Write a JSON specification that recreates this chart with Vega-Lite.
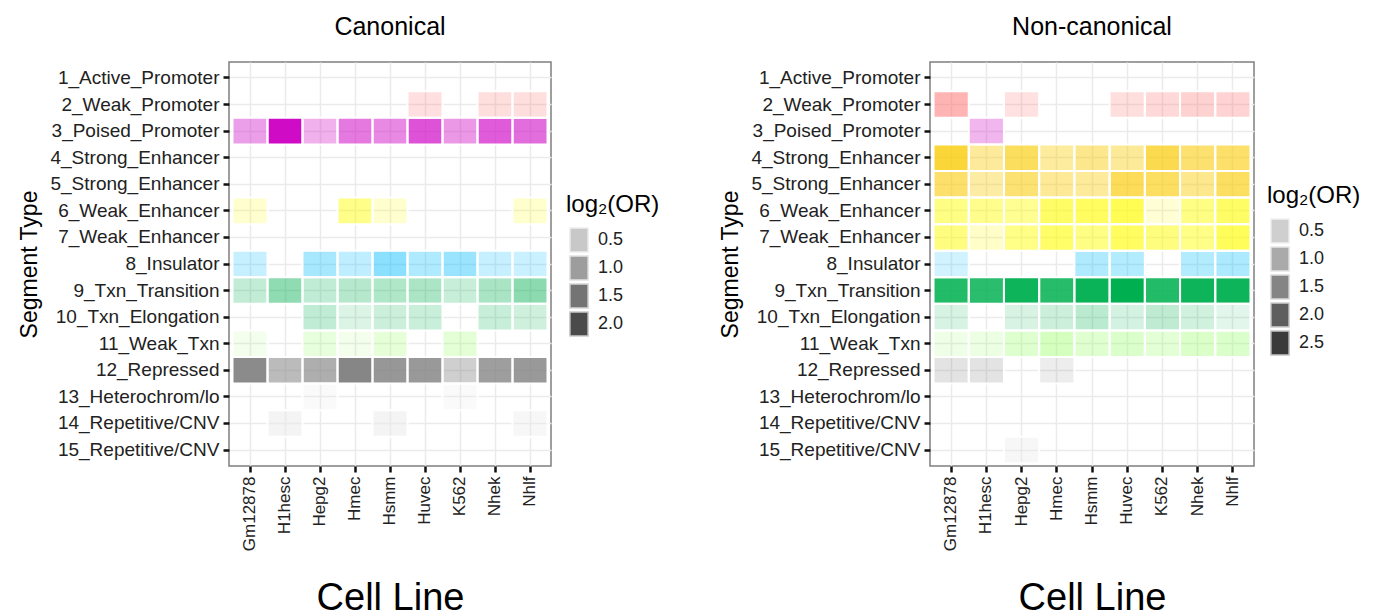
{
  "$schema": "https://vega.github.io/schema/vega-lite/v6.json",
  "padding": {"left": 18, "top": 14, "right": 5, "bottom": 2},
  "datasets": {
    "d": [
      {"p": "Canonical", "c": "Huvec", "s": "2_Weak_Promoter", "v": 0.36},
      {"p": "Canonical", "c": "Nhek", "s": "2_Weak_Promoter", "v": 0.38},
      {"p": "Canonical", "c": "Nhlf", "s": "2_Weak_Promoter", "v": 0.38},
      {"p": "Canonical", "c": "Gm12878", "s": "3_Poised_Promoter", "v": 0.80},
      {"p": "Canonical", "c": "H1hesc", "s": "3_Poised_Promoter", "v": 2.28},
      {"p": "Canonical", "c": "Hepg2", "s": "3_Poised_Promoter", "v": 0.63},
      {"p": "Canonical", "c": "Hmec", "s": "3_Poised_Promoter", "v": 1.18},
      {"p": "Canonical", "c": "Hsmm", "s": "3_Poised_Promoter", "v": 1.01},
      {"p": "Canonical", "c": "Huvec", "s": "3_Poised_Promoter", "v": 1.57},
      {"p": "Canonical", "c": "K562", "s": "3_Poised_Promoter", "v": 0.87},
      {"p": "Canonical", "c": "Nhek", "s": "3_Poised_Promoter", "v": 1.48},
      {"p": "Canonical", "c": "Nhlf", "s": "3_Poised_Promoter", "v": 1.31},
      {"p": "Canonical", "c": "Gm12878", "s": "6_Weak_Enhancer", "v": 0.31},
      {"p": "Canonical", "c": "Hmec", "s": "6_Weak_Enhancer", "v": 0.99},
      {"p": "Canonical", "c": "Hsmm", "s": "6_Weak_Enhancer", "v": 0.31},
      {"p": "Canonical", "c": "Nhlf", "s": "6_Weak_Enhancer", "v": 0.33},
      {"p": "Canonical", "c": "Gm12878", "s": "8_Insulator", "v": 0.41},
      {"p": "Canonical", "c": "Hepg2", "s": "8_Insulator", "v": 0.72},
      {"p": "Canonical", "c": "Hmec", "s": "8_Insulator", "v": 0.50},
      {"p": "Canonical", "c": "Hsmm", "s": "8_Insulator", "v": 0.99},
      {"p": "Canonical", "c": "Huvec", "s": "8_Insulator", "v": 0.63},
      {"p": "Canonical", "c": "K562", "s": "8_Insulator", "v": 0.85},
      {"p": "Canonical", "c": "Nhek", "s": "8_Insulator", "v": 0.41},
      {"p": "Canonical", "c": "Nhlf", "s": "8_Insulator", "v": 0.38},
      {"p": "Canonical", "c": "Gm12878", "s": "9_Txn_Transition", "v": 0.43},
      {"p": "Canonical", "c": "H1hesc", "s": "9_Txn_Transition", "v": 0.92},
      {"p": "Canonical", "c": "Hepg2", "s": "9_Txn_Transition", "v": 0.45},
      {"p": "Canonical", "c": "Hmec", "s": "9_Txn_Transition", "v": 0.55},
      {"p": "Canonical", "c": "Hsmm", "s": "9_Txn_Transition", "v": 0.60},
      {"p": "Canonical", "c": "Huvec", "s": "9_Txn_Transition", "v": 0.65},
      {"p": "Canonical", "c": "K562", "s": "9_Txn_Transition", "v": 0.38},
      {"p": "Canonical", "c": "Nhek", "s": "9_Txn_Transition", "v": 0.67},
      {"p": "Canonical", "c": "Nhlf", "s": "9_Txn_Transition", "v": 0.94},
      {"p": "Canonical", "c": "Hepg2", "s": "10_Txn_Elongation", "v": 0.45},
      {"p": "Canonical", "c": "Hmec", "s": "10_Txn_Elongation", "v": 0.19},
      {"p": "Canonical", "c": "Hsmm", "s": "10_Txn_Elongation", "v": 0.33},
      {"p": "Canonical", "c": "Huvec", "s": "10_Txn_Elongation", "v": 0.36},
      {"p": "Canonical", "c": "Nhek", "s": "10_Txn_Elongation", "v": 0.38},
      {"p": "Canonical", "c": "Nhlf", "s": "10_Txn_Elongation", "v": 0.31},
      {"p": "Canonical", "c": "Gm12878", "s": "11_Weak_Txn", "v": 0.14},
      {"p": "Canonical", "c": "Hepg2", "s": "11_Weak_Txn", "v": 0.41},
      {"p": "Canonical", "c": "Hmec", "s": "11_Weak_Txn", "v": 0.14},
      {"p": "Canonical", "c": "Hsmm", "s": "11_Weak_Txn", "v": 0.45},
      {"p": "Canonical", "c": "K562", "s": "11_Weak_Txn", "v": 0.50},
      {"p": "Canonical", "c": "Gm12878", "s": "12_Repressed", "v": 2.06},
      {"p": "Canonical", "c": "H1hesc", "s": "12_Repressed", "v": 1.14},
      {"p": "Canonical", "c": "Hepg2", "s": "12_Repressed", "v": 1.38},
      {"p": "Canonical", "c": "Hmec", "s": "12_Repressed", "v": 2.16},
      {"p": "Canonical", "c": "Hsmm", "s": "12_Repressed", "v": 1.82},
      {"p": "Canonical", "c": "Huvec", "s": "12_Repressed", "v": 1.79},
      {"p": "Canonical", "c": "K562", "s": "12_Repressed", "v": 0.75},
      {"p": "Canonical", "c": "Nhek", "s": "12_Repressed", "v": 1.70},
      {"p": "Canonical", "c": "Nhlf", "s": "12_Repressed", "v": 1.79},
      {"p": "Canonical", "c": "Hepg2", "s": "13_Heterochrom/lo", "v": 0.33},
      {"p": "Canonical", "c": "K562", "s": "13_Heterochrom/lo", "v": 0.33},
      {"p": "Canonical", "c": "H1hesc", "s": "14_Repetitive/CNV", "v": 1.06},
      {"p": "Canonical", "c": "Hsmm", "s": "14_Repetitive/CNV", "v": 1.06},
      {"p": "Canonical", "c": "Nhlf", "s": "14_Repetitive/CNV", "v": 0.70},

      {"p": "Non-canonical", "c": "Gm12878", "s": "2_Weak_Promoter", "v": 1.24},
      {"p": "Non-canonical", "c": "Hepg2", "s": "2_Weak_Promoter", "v": 0.42},
      {"p": "Non-canonical", "c": "Huvec", "s": "2_Weak_Promoter", "v": 0.48},
      {"p": "Non-canonical", "c": "K562", "s": "2_Weak_Promoter", "v": 0.56},
      {"p": "Non-canonical", "c": "Nhek", "s": "2_Weak_Promoter", "v": 0.69},
      {"p": "Non-canonical", "c": "Nhlf", "s": "2_Weak_Promoter", "v": 0.67},
      {"p": "Non-canonical", "c": "H1hesc", "s": "3_Poised_Promoter", "v": 0.69},
      {"p": "Non-canonical", "c": "Gm12878", "s": "4_Strong_Enhancer", "v": 2.00},
      {"p": "Non-canonical", "c": "H1hesc", "s": "4_Strong_Enhancer", "v": 0.94},
      {"p": "Non-canonical", "c": "Hepg2", "s": "4_Strong_Enhancer", "v": 1.59},
      {"p": "Non-canonical", "c": "Hmec", "s": "4_Strong_Enhancer", "v": 0.91},
      {"p": "Non-canonical", "c": "Hsmm", "s": "4_Strong_Enhancer", "v": 1.10},
      {"p": "Non-canonical", "c": "Huvec", "s": "4_Strong_Enhancer", "v": 0.97},
      {"p": "Non-canonical", "c": "K562", "s": "4_Strong_Enhancer", "v": 1.76},
      {"p": "Non-canonical", "c": "Nhek", "s": "4_Strong_Enhancer", "v": 1.40},
      {"p": "Non-canonical", "c": "Nhlf", "s": "4_Strong_Enhancer", "v": 1.48},
      {"p": "Non-canonical", "c": "Gm12878", "s": "5_Strong_Enhancer", "v": 1.46},
      {"p": "Non-canonical", "c": "H1hesc", "s": "5_Strong_Enhancer", "v": 0.86},
      {"p": "Non-canonical", "c": "Hepg2", "s": "5_Strong_Enhancer", "v": 1.37},
      {"p": "Non-canonical", "c": "Hmec", "s": "5_Strong_Enhancer", "v": 1.00},
      {"p": "Non-canonical", "c": "Hsmm", "s": "5_Strong_Enhancer", "v": 0.94},
      {"p": "Non-canonical", "c": "Huvec", "s": "5_Strong_Enhancer", "v": 1.65},
      {"p": "Non-canonical", "c": "K562", "s": "5_Strong_Enhancer", "v": 1.57},
      {"p": "Non-canonical", "c": "Nhek", "s": "5_Strong_Enhancer", "v": 1.08},
      {"p": "Non-canonical", "c": "Nhlf", "s": "5_Strong_Enhancer", "v": 1.57},
      {"p": "Non-canonical", "c": "Gm12878", "s": "6_Weak_Enhancer", "v": 1.21},
      {"p": "Non-canonical", "c": "H1hesc", "s": "6_Weak_Enhancer", "v": 1.13},
      {"p": "Non-canonical", "c": "Hepg2", "s": "6_Weak_Enhancer", "v": 1.05},
      {"p": "Non-canonical", "c": "Hmec", "s": "6_Weak_Enhancer", "v": 1.54},
      {"p": "Non-canonical", "c": "Hsmm", "s": "6_Weak_Enhancer", "v": 1.62},
      {"p": "Non-canonical", "c": "Huvec", "s": "6_Weak_Enhancer", "v": 1.73},
      {"p": "Non-canonical", "c": "K562", "s": "6_Weak_Enhancer", "v": 0.34},
      {"p": "Non-canonical", "c": "Nhek", "s": "6_Weak_Enhancer", "v": 1.21},
      {"p": "Non-canonical", "c": "Nhlf", "s": "6_Weak_Enhancer", "v": 1.54},
      {"p": "Non-canonical", "c": "Gm12878", "s": "7_Weak_Enhancer", "v": 1.27},
      {"p": "Non-canonical", "c": "H1hesc", "s": "7_Weak_Enhancer", "v": 0.48},
      {"p": "Non-canonical", "c": "Hepg2", "s": "7_Weak_Enhancer", "v": 1.18},
      {"p": "Non-canonical", "c": "Hmec", "s": "7_Weak_Enhancer", "v": 1.51},
      {"p": "Non-canonical", "c": "Hsmm", "s": "7_Weak_Enhancer", "v": 1.21},
      {"p": "Non-canonical", "c": "Huvec", "s": "7_Weak_Enhancer", "v": 1.62},
      {"p": "Non-canonical", "c": "K562", "s": "7_Weak_Enhancer", "v": 1.29},
      {"p": "Non-canonical", "c": "Nhek", "s": "7_Weak_Enhancer", "v": 1.18},
      {"p": "Non-canonical", "c": "Nhlf", "s": "7_Weak_Enhancer", "v": 1.67},
      {"p": "Non-canonical", "c": "Gm12878", "s": "8_Insulator", "v": 0.40},
      {"p": "Non-canonical", "c": "Hsmm", "s": "8_Insulator", "v": 0.75},
      {"p": "Non-canonical", "c": "Huvec", "s": "8_Insulator", "v": 0.72},
      {"p": "Non-canonical", "c": "Nhek", "s": "8_Insulator", "v": 0.72},
      {"p": "Non-canonical", "c": "Nhlf", "s": "8_Insulator", "v": 0.78},
      {"p": "Non-canonical", "c": "Gm12878", "s": "9_Txn_Transition", "v": 2.24},
      {"p": "Non-canonical", "c": "H1hesc", "s": "9_Txn_Transition", "v": 2.14},
      {"p": "Non-canonical", "c": "Hepg2", "s": "9_Txn_Transition", "v": 2.46},
      {"p": "Non-canonical", "c": "Hmec", "s": "9_Txn_Transition", "v": 2.19},
      {"p": "Non-canonical", "c": "Hsmm", "s": "9_Txn_Transition", "v": 2.49},
      {"p": "Non-canonical", "c": "Huvec", "s": "9_Txn_Transition", "v": 2.60},
      {"p": "Non-canonical", "c": "K562", "s": "9_Txn_Transition", "v": 2.24},
      {"p": "Non-canonical", "c": "Nhek", "s": "9_Txn_Transition", "v": 2.46},
      {"p": "Non-canonical", "c": "Nhlf", "s": "9_Txn_Transition", "v": 2.46},
      {"p": "Non-canonical", "c": "Gm12878", "s": "10_Txn_Elongation", "v": 0.31},
      {"p": "Non-canonical", "c": "Hepg2", "s": "10_Txn_Elongation", "v": 0.29},
      {"p": "Non-canonical", "c": "Hmec", "s": "10_Txn_Elongation", "v": 0.42},
      {"p": "Non-canonical", "c": "Hsmm", "s": "10_Txn_Elongation", "v": 0.61},
      {"p": "Non-canonical", "c": "Huvec", "s": "10_Txn_Elongation", "v": 0.34},
      {"p": "Non-canonical", "c": "K562", "s": "10_Txn_Elongation", "v": 0.56},
      {"p": "Non-canonical", "c": "Nhek", "s": "10_Txn_Elongation", "v": 0.37},
      {"p": "Non-canonical", "c": "Nhlf", "s": "10_Txn_Elongation", "v": 0.18},
      {"p": "Non-canonical", "c": "Gm12878", "s": "11_Weak_Txn", "v": 0.31},
      {"p": "Non-canonical", "c": "H1hesc", "s": "11_Weak_Txn", "v": 0.37},
      {"p": "Non-canonical", "c": "Hepg2", "s": "11_Weak_Txn", "v": 0.75},
      {"p": "Non-canonical", "c": "Hmec", "s": "11_Weak_Txn", "v": 1.02},
      {"p": "Non-canonical", "c": "Hsmm", "s": "11_Weak_Txn", "v": 0.72},
      {"p": "Non-canonical", "c": "Huvec", "s": "11_Weak_Txn", "v": 0.83},
      {"p": "Non-canonical", "c": "K562", "s": "11_Weak_Txn", "v": 0.61},
      {"p": "Non-canonical", "c": "Nhek", "s": "11_Weak_Txn", "v": 0.86},
      {"p": "Non-canonical", "c": "Nhlf", "s": "11_Weak_Txn", "v": 0.83},
      {"p": "Non-canonical", "c": "Gm12878", "s": "12_Repressed", "v": 0.48},
      {"p": "Non-canonical", "c": "H1hesc", "s": "12_Repressed", "v": 0.48},
      {"p": "Non-canonical", "c": "Hmec", "s": "12_Repressed", "v": 0.26},
      {"p": "Non-canonical", "c": "Hepg2", "s": "15_Repetitive/CNV", "v": 0.80}
    ]
  },
  "data": {"name": "d"},
  "spacing": 58,
  "hconcat": [
    {
      "title": "Canonical",
      "width": 322,
      "height": 404,
      "transform": [{"filter": "datum.p === 'Canonical'"}],
      "encoding": {
        "x": {"field": "c", "type": "nominal", "title": "Cell Line",
          "scale": {"domain": ["Gm12878", "H1hesc", "Hepg2", "Hmec", "Hsmm", "Huvec", "K562", "Nhek", "Nhlf"], "paddingInner": 0, "paddingOuter": 0.1},
          "axis": {"labelAngle": -90}},
        "y": {"field": "s", "type": "nominal", "title": "Segment Type",
          "scale": {"domain": ["1_Active_Promoter", "2_Weak_Promoter", "3_Poised_Promoter", "4_Strong_Enhancer", "5_Strong_Enhancer", "6_Weak_Enhancer", "7_Weak_Enhancer", "8_Insulator", "9_Txn_Transition", "10_Txn_Elongation", "11_Weak_Txn", "12_Repressed", "13_Heterochrom/lo", "14_Repetitive/CNV", "15_Repetitive/CNV"], "paddingInner": 0, "paddingOuter": 0.1}}
      },
      "layer": [
        {
          "mark": {"type": "rect"},
          "encoding": {
            "color": {"field": "s", "type": "nominal", "legend": null,
              "scale": {"domain": ["1_Active_Promoter", "2_Weak_Promoter", "3_Poised_Promoter", "4_Strong_Enhancer", "5_Strong_Enhancer", "6_Weak_Enhancer", "7_Weak_Enhancer", "8_Insulator", "9_Txn_Transition", "10_Txn_Elongation", "11_Weak_Txn", "12_Repressed", "13_Heterochrom/lo", "14_Repetitive/CNV", "15_Repetitive/CNV"],
                "range": ["#ff0000", "#ff6969", "#cf0bc6", "#faca00", "#faca00", "#fffc04", "#fffc04", "#0abefe", "#00b050", "#00b050", "#99ff66", "#7f7f7f", "#e8e8e8", "#e8e8e8", "#e8e8e8"]}},
            "opacity": {"field": "v", "type": "quantitative",
              "scale": {"domain": [0.09, 2.28], "range": [0.1, 1]},
              "legend": {"title": "log₂(OR)", "values": [0.5, 1.0, 1.5, 2.0], "format": ".1f", "orient": "none", "legendX": 337, "legendY": 131,
                "symbolSize": 576, "symbolFillColor": "#333333", "rowPadding": -3,
                "encode": {"symbols": {"update": {"shape": {"value": "M-0.76,-1H0.76V1H-0.76Z"}, "size": {"value": 576}, "stroke": {"value": "#c4c4c4"}, "strokeWidth": {"value": 1.5}, "fill": {"value": "#333333"}}}}}}
          }
        },
        {
          "mark": {"type": "rect", "filled": false, "stroke": "white", "strokeWidth": 2}
        }
      ]
    },
    {
      "title": "Non-canonical",
      "width": 324,
      "height": 404,
      "transform": [{"filter": "datum.p === 'Non-canonical'"}],
      "encoding": {
        "x": {"field": "c", "type": "nominal", "title": "Cell Line",
          "scale": {"domain": ["Gm12878", "H1hesc", "Hepg2", "Hmec", "Hsmm", "Huvec", "K562", "Nhek", "Nhlf"], "paddingInner": 0, "paddingOuter": 0.1},
          "axis": {"labelAngle": -90}},
        "y": {"field": "s", "type": "nominal", "title": "Segment Type",
          "scale": {"domain": ["1_Active_Promoter", "2_Weak_Promoter", "3_Poised_Promoter", "4_Strong_Enhancer", "5_Strong_Enhancer", "6_Weak_Enhancer", "7_Weak_Enhancer", "8_Insulator", "9_Txn_Transition", "10_Txn_Elongation", "11_Weak_Txn", "12_Repressed", "13_Heterochrom/lo", "14_Repetitive/CNV", "15_Repetitive/CNV"], "paddingInner": 0, "paddingOuter": 0.1}}
      },
      "layer": [
        {
          "mark": {"type": "rect"},
          "encoding": {
            "color": {"field": "s", "type": "nominal", "legend": null,
              "scale": {"domain": ["1_Active_Promoter", "2_Weak_Promoter", "3_Poised_Promoter", "4_Strong_Enhancer", "5_Strong_Enhancer", "6_Weak_Enhancer", "7_Weak_Enhancer", "8_Insulator", "9_Txn_Transition", "10_Txn_Elongation", "11_Weak_Txn", "12_Repressed", "13_Heterochrom/lo", "14_Repetitive/CNV", "15_Repetitive/CNV"],
                "range": ["#ff0000", "#ff6969", "#cf0bc6", "#faca00", "#faca00", "#fffc04", "#fffc04", "#0abefe", "#00b050", "#00b050", "#99ff66", "#7f7f7f", "#e8e8e8", "#e8e8e8", "#e8e8e8"]}},
            "opacity": {"field": "v", "type": "quantitative",
              "scale": {"domain": [0.15, 2.6], "range": [0.1, 1]},
              "legend": {"title": "log₂(OR)", "values": [0.5, 1.0, 1.5, 2.0, 2.5], "format": ".1f", "orient": "none", "legendX": 337, "legendY": 122,
                "symbolSize": 576, "symbolFillColor": "#333333", "rowPadding": -3,
                "encode": {"symbols": {"update": {"shape": {"value": "M-0.76,-1H0.76V1H-0.76Z"}, "size": {"value": 576}, "stroke": {"value": "#c4c4c4"}, "strokeWidth": {"value": 1.5}, "fill": {"value": "#333333"}}}}}}
          }
        },
        {
          "mark": {"type": "rect", "filled": false, "stroke": "white", "strokeWidth": 2}
        }
      ]
    }
  ],
  "resolve": {"scale": {"opacity": "independent", "x": "independent", "y": "independent"}, "legend": {"opacity": "independent"}},
  "config": {
    "font": "Liberation Sans",
    "view": {"stroke": "#7f7f7f", "strokeWidth": 1.5},
    "title": {"fontSize": 25, "fontWeight": "normal", "color": "#000000", "offset": 22},
    "axis": {
      "zindex": 0,
      "domain": false,
      "grid": true,
      "gridColor": "#ebebeb",
      "gridWidth": 1.5,
      "bandPosition": 0.5,
      "tickColor": "#111111",
      "tickWidth": 2.5,
      "tickSize": 6,
      "labelColor": "#222222",
      "labelPadding": 4,
      "titleFontWeight": "normal",
      "titleColor": "#000000"
    },
    "axisX": {"titleFontSize": 38, "titlePadding": 29, "labelFontSize": 17},
    "axisY": {"titleFontSize": 23, "titlePadding": 8, "labelFontSize": 19},
    "legend": {
      "titleFontSize": 24,
      "titleFontWeight": "normal",
      "titleColor": "#000000",
      "titlePadding": 10,
      "labelFontSize": 18,
      "labelColor": "#222222",
      "labelOffset": 6
    }
  }
}
